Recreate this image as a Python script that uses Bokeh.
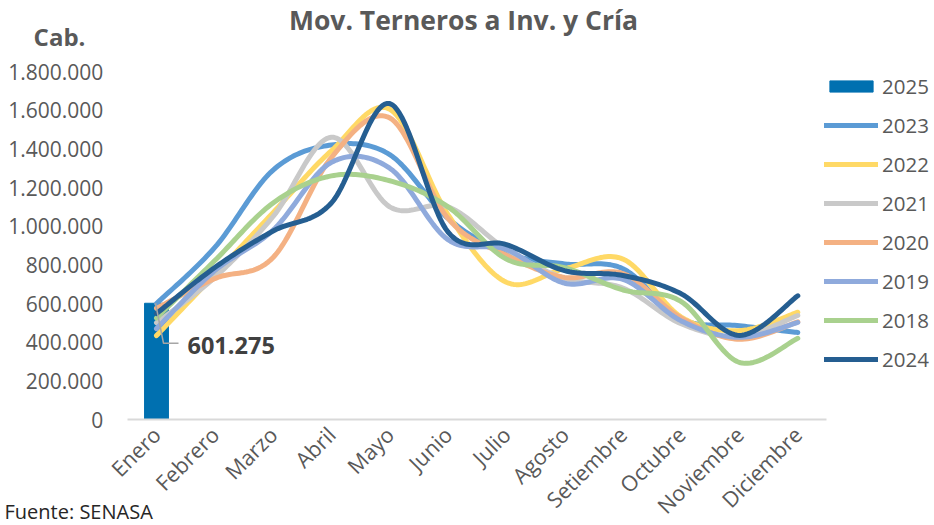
import numpy as np
from bokeh.plotting import figure
from bokeh.models import (FixedTicker, Legend, LegendItem, Label, Range1d)
from bokeh.embed import file_html
from bokeh.resources import INLINE

months = ["Enero", "Febrero", "Marzo", "Abril", "Mayo", "Junio", "Julio",
          "Agosto", "Setiembre", "Octubre", "Noviembre", "Diciembre"]

v2025 = [601275]
v2023 = [600000, 890000, 1290000, 1420000, 1370000, 1040000, 860000, 805000, 780000, 520000, 485000, 450000]
v2022 = [434000, 750000, 1070000, 1390000, 1605000, 1060000, 710000, 780000, 830000, 530000, 460000, 555000]
v2021 = [500000, 735000, 1050000, 1460000, 1100000, 1100000, 880000, 730000, 680000, 495000, 430000, 538000]
v2020 = [575000, 729000, 838000, 1355000, 1560000, 1040000, 850000, 735000, 755000, 525000, 415000, 505000]
v2019 = [470000, 770000, 980000, 1330000, 1300000, 930000, 880000, 705000, 725000, 510000, 425000, 502000]
v2018 = [525000, 822000, 1120000, 1260000, 1235000, 1100000, 830000, 785000, 670000, 610000, 295000, 420000]
v2024 = [548000, 786000, 975000, 1120000, 1634000, 970000, 905000, 770000, 745000, 650000, 435000, 640000]

y_ticks = [0, 200000, 400000, 600000, 800000, 1000000, 1200000, 1400000, 1600000, 1800000]

series = [
    ("2023", v2023, "#5B9BD5"),
    ("2022", v2022, "#FFD966"),
    ("2021", v2021, "#C9C9C9"),
    ("2020", v2020, "#F4B183"),
    ("2019", v2019, "#8FAADC"),
    ("2018", v2018, "#A9D18E"),
    ("2024", v2024, "#255E91"),
]


def smooth(xs, ys, n=24):
    xs = np.asarray(xs, float)
    ys = np.asarray(ys, float)
    px = np.concatenate([[xs[0]], xs, [xs[-1]]])
    py = np.concatenate([[ys[0]], ys, [ys[-1]]])
    ox, oy = [], []
    for i in range(1, len(px) - 2):
        p0x, p1x, p2x, p3x = px[i - 1], px[i], px[i + 1], px[i + 2]
        p0y, p1y, p2y, p3y = py[i - 1], py[i], py[i + 1], py[i + 2]
        c1x = p1x + (p2x - p0x) / 6.0
        c1y = p1y + (p2y - p0y) / 6.0
        c2x = p2x - (p3x - p1x) / 6.0
        c2y = p2y - (p3y - p1y) / 6.0
        t = np.linspace(0, 1, n, endpoint=(i == len(px) - 3))
        mt = 1 - t
        ox.extend(mt**3 * p1x + 3 * mt**2 * t * c1x + 3 * mt * t**2 * c2x + t**3 * p2x)
        oy.extend(mt**3 * p1y + 3 * mt**2 * t * c1y + 3 * mt * t**2 * c2y + t**3 * p2y)
    return ox, oy


FONT = "Open Sans"
GREY = "#595959"

# canvas geometry (pixels): the frame covers the whole canvas, axes are pinned
W, H = 934, 525
X0_PX = 156.0          # pixel position of first category
X_STEP = 58.3          # pixels per category
Y0_PX = 419.0          # pixel row of value 0 (from top)
Y_TOP_PX = 71.0        # pixel row of top tick
YMAX = y_ticks[-1]
y_per_px = YMAX / (Y0_PX - Y_TOP_PX)
x_start = -X0_PX / X_STEP
x_end = x_start + W / X_STEP
y_start = -(H - Y0_PX) * y_per_px
y_end = Y0_PX * y_per_px

p = figure(width=W, height=H, output_backend="svg", toolbar_location=None,
           x_range=Range1d(x_start, x_end), y_range=Range1d(y_start, y_end),
           min_border=0, min_border_left=0, min_border_right=0,
           min_border_top=0, min_border_bottom=0, outline_line_color=None)
p.title.visible = False
p.xgrid.visible = False
p.ygrid.visible = False

xs = list(range(len(months)))
n = len(months)

bar = p.vbar(x=[0], top=v2025, width=0.41, color="#0070B0")

items = [LegendItem(label="2025", renderers=[bar])]
for name, vals, col in series:
    sx, sy = smooth(xs, vals)
    r = p.line(sx, sy, line_color=col, line_width=5, line_cap="round", line_join="round")
    items.append(LegendItem(label=name, renderers=[r]))

# data label with leader line for 2025
val = v2025[0]
dx = 1 / X_STEP
p.line([0 - 1 * dx, 0 + 7 * dx, 0 + 22 * dx], [val, val - 40 * y_per_px, val - 40 * y_per_px],
       line_color="#A6A6A6", line_width=1.5)
p.add_layout(Label(x=0 + 31 * dx, y=val - 42 * y_per_px, text="601.275",
                   text_font=FONT, text_font_size="23.5px", text_font_style="bold",
                   text_color="#404040", text_baseline="middle", text_align="left"))

# axes pinned inside the frame
p.xaxis.fixed_location = 0
p.xaxis.bounds = (-0.5, n - 0.5)
p.xaxis.ticker = FixedTicker(ticks=xs)
p.xaxis.major_label_overrides = {i: m for i, m in enumerate(months)}
p.xaxis.major_label_orientation = np.pi / 4
p.xaxis.major_label_text_font = FONT
p.xaxis.major_label_text_font_size = "21.5px"
p.xaxis.major_label_text_color = GREY
p.xaxis.axis_line_color = "#D9D9D9"
p.xaxis.axis_line_width = 2
p.xaxis.major_tick_line_color = None
p.xaxis.minor_tick_line_color = None
p.xaxis.major_label_standoff = 5

p.yaxis.fixed_location = -0.5
p.yaxis.bounds = (0, YMAX)
p.yaxis.ticker = FixedTicker(ticks=y_ticks)
p.yaxis.major_label_overrides = {t: (f"{t:,}".replace(",", ".")) for t in y_ticks}
p.yaxis.major_label_text_font = FONT
p.yaxis.major_label_text_font_size = "21px"
p.yaxis.major_label_text_color = GREY
p.yaxis.axis_line_color = None
p.yaxis.major_tick_line_color = None
p.yaxis.minor_tick_line_color = None
p.yaxis.major_label_standoff = 18

legend = Legend(items=items, location=(824, 152), orientation="vertical",
                glyph_width=54, glyph_height=14, label_height=20, spacing=11,
                label_standoff=4, padding=0, margin=0,
                label_text_font=FONT, label_text_font_size="20.5px",
                label_text_color=GREY, border_line_color=None,
                background_fill_alpha=0)
p.add_layout(legend, "center")

p.add_layout(Label(x=463, y=H - 19, x_units="screen", y_units="screen",
                   text="Mov. Terneros a Inv. y Cría", text_font=FONT,
                   text_font_size="26.5px", text_font_style="bold", text_color=GREY,
                   text_align="center", text_baseline="middle"))
p.add_layout(Label(x=59, y=H - 36, x_units="screen", y_units="screen",
                   text="Cab.", text_font=FONT, text_font_size="24px",
                   text_font_style="bold", text_color=GREY,
                   text_align="center", text_baseline="middle"))
p.add_layout(Label(x=4, y=1, x_units="screen", y_units="screen",
                   text="Fuente: SENASA", text_font=FONT, text_font_size="20px",
                   text_color="#262626", text_align="left", text_baseline="bottom"))

open("out.html", "w").write(file_html(p, INLINE))
